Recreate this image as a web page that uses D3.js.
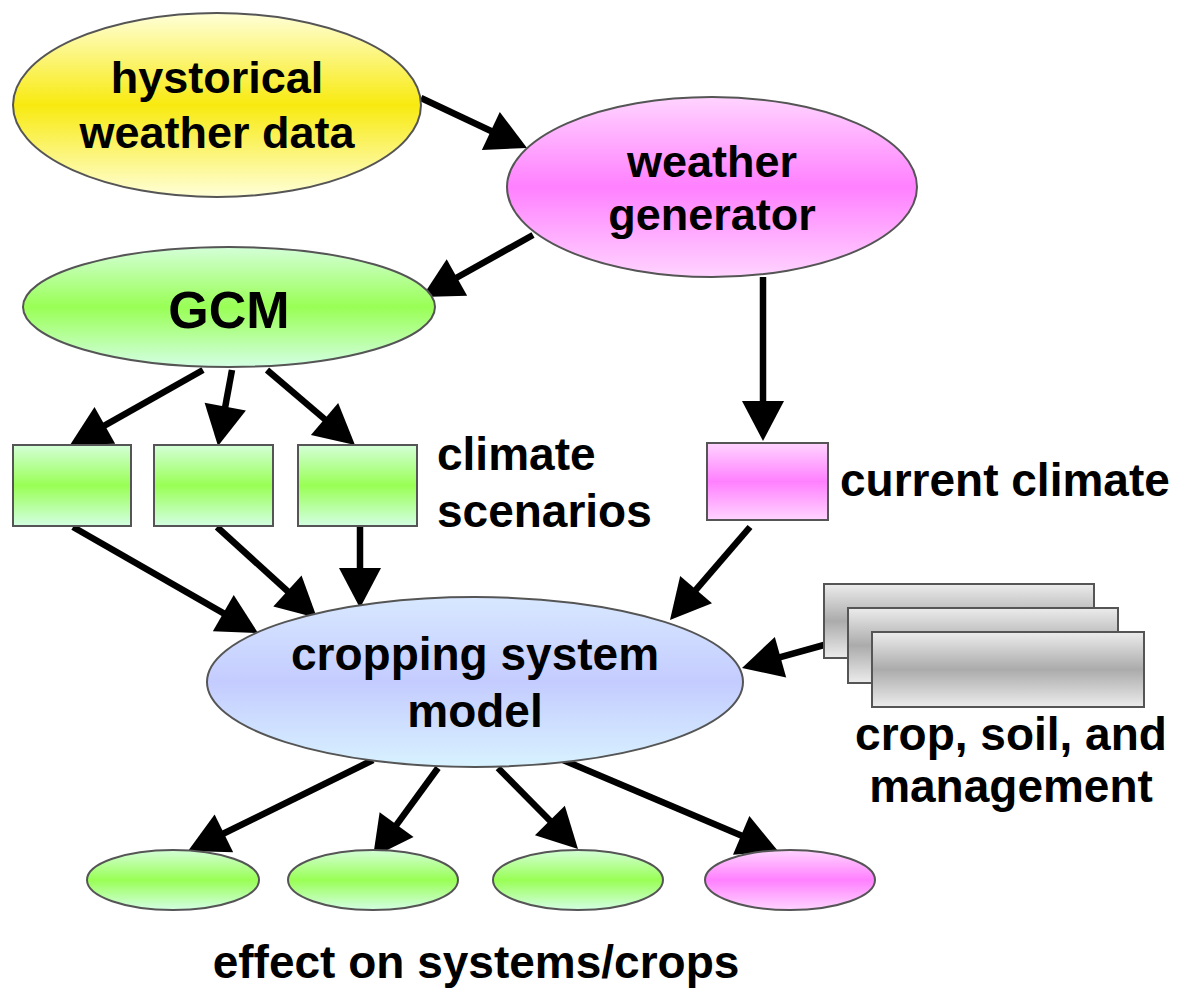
<!DOCTYPE html>
<html>
<head>
<meta charset="utf-8">
<script src="https://cdn.jsdelivr.net/npm/d3@7"></script>
<style>
  html, body { margin: 0; padding: 0; background: #fff; }
  svg { display: block; }
  text { font-family: "Liberation Sans", Arial, sans-serif; font-weight: bold; fill: #000; }
</style>
</head>
<body>
<div id="chart"></div>
<script>
// node labels
const ellipseLabels = [
  ['hystorical', 'weather data'],
  ['weather', 'generator'],
  ['GCM'],
  ['cropping system', 'model'],
  [], [], [], []
];
const ellipseColors = ['yellow', 'pink', 'green', 'blue', 'green', 'green', 'green', 'pink'];
const rectColors = ['green', 'green', 'green', 'pink'];
const sideLabels = [
  ['climate', 'scenarios'],
  ['current climate'],
  ['crop, soil, and', 'management'],
  ['effect on systems/crops']
];

// layout (pixels)
const ellipseBoxes = [
  {cx: 217, cy: 105, rx: 204, ry: 92, fs: 45, base: [93, 148]},
  {cx: 712, cy: 187, rx: 205, ry: 90, fs: 45, base: [177, 230]},
  {cx: 229, cy: 307, rx: 206, ry: 60, fs: 52, base: [328]},
  {cx: 475, cy: 682, rx: 268, ry: 85, fs: 46, base: [670, 727]},
  {cx: 173, cy: 880, rx: 86, ry: 30},
  {cx: 373, cy: 880, rx: 85, ry: 30},
  {cx: 578, cy: 880, rx: 85, ry: 30},
  {cx: 790, cy: 880, rx: 85, ry: 30}
];
const rectBoxes = [
  {x: 13, y: 445, w: 118, h: 81},
  {x: 154, y: 445, w: 119, h: 81},
  {x: 298, y: 445, w: 119, h: 81},
  {x: 707, y: 443, w: 121, h: 77}
];
const stackBoxes = [
  {x: 824, y: 584, w: 270, h: 74},
  {x: 848, y: 608, w: 270, h: 75},
  {x: 872, y: 632, w: 272, h: 75}
];
const sideLabelPos = [
  {x: 437, anchor: 'start', base: [470, 527]},
  {x: 840, anchor: 'start', base: [496]},
  {x: 1011, anchor: 'middle', base: [750, 802]},
  {x: 476, anchor: 'middle', base: [978]}
];
// arrows: start -> tip
const arrows = [
  [421, 98, 527, 148],
  [533, 235, 422, 297],
  [763, 277, 763, 441],
  [203, 370, 70, 445],
  [232, 370, 218, 446],
  [267, 370, 355, 445],
  [73, 527, 258, 633],
  [217, 527, 317, 618],
  [360, 527, 360, 608],
  [750, 527, 670, 620],
  [824, 645, 742, 668],
  [373, 760, 188, 851],
  [438, 768, 373, 857],
  [498, 768, 578, 849],
  [563, 760, 778, 851]
];

const W = 1180, H = 989;
const svg = d3.select('#chart').append('svg')
  .attr('width', W).attr('height', H);

const defs = svg.append('defs');
const gradients = {
  yellow: ['#ffffd8', '#f8ea10', '#ffffd8'],
  pink:   ['#ffd4ff', '#ff80ff', '#ffd4ff'],
  green:  ['#d4ffd8', '#99ff55', '#d4ffe4'],
  blue:   ['#d8e8ff', '#c4ccff', '#d8f2ff'],
  gray:   ['#ececec', '#ababab', '#ececec']
};
Object.keys(gradients).forEach(function (k) {
  const g = defs.append('linearGradient')
    .attr('id', 'grad-' + k)
    .attr('x1', 0).attr('y1', 0).attr('x2', 0).attr('y2', 1);
  gradients[k].forEach(function (c, i) {
    g.append('stop').attr('offset', i / 2).attr('stop-color', c);
  });
});

// arrows first (under shapes)
const headLen = 40, headHalf = 21;
const arrowG = svg.append('g').attr('class', 'arrows');
arrows.forEach(function (a) {
  const dx = a[2] - a[0], dy = a[3] - a[1];
  const len = Math.sqrt(dx * dx + dy * dy);
  const ux = dx / len, uy = dy / len;
  const bx = a[2] - ux * headLen, by = a[3] - uy * headLen;
  arrowG.append('line')
    .attr('x1', a[0]).attr('y1', a[1])
    .attr('x2', bx + ux * 2).attr('y2', by + uy * 2)
    .attr('stroke', '#000').attr('stroke-width', 6.5);
  arrowG.append('path')
    .attr('d', d3.line()([
      [a[2], a[3]],
      [bx - uy * headHalf, by + ux * headHalf],
      [bx + uy * headHalf, by - ux * headHalf]
    ]) + 'Z')
    .attr('fill', '#000');
});

// ellipses
svg.append('g').selectAll('ellipse')
  .data(ellipseBoxes)
  .join('ellipse')
  .attr('cx', d => d.cx).attr('cy', d => d.cy)
  .attr('rx', d => d.rx).attr('ry', d => d.ry)
  .attr('fill', (d, i) => 'url(#grad-' + ellipseColors[i] + ')')
  .attr('stroke', '#555').attr('stroke-width', 2);

// rects
svg.append('g').selectAll('rect')
  .data(rectBoxes)
  .join('rect')
  .attr('x', d => d.x).attr('y', d => d.y)
  .attr('width', d => d.w).attr('height', d => d.h)
  .attr('fill', (d, i) => 'url(#grad-' + rectColors[i] + ')')
  .attr('stroke', '#555').attr('stroke-width', 2);

svg.append('g').selectAll('rect')
  .data(stackBoxes)
  .join('rect')
  .attr('x', d => d.x).attr('y', d => d.y)
  .attr('width', d => d.w).attr('height', d => d.h)
  .attr('fill', 'url(#grad-gray)')
  .attr('stroke', '#555').attr('stroke-width', 2);

// labels inside ellipses
ellipseBoxes.forEach(function (b, i) {
  ellipseLabels[i].forEach(function (t, j) {
    svg.append('text')
      .attr('x', b.cx).attr('y', b.base[j])
      .attr('text-anchor', 'middle')
      .attr('font-size', b.fs)
      .text(t);
  });
});

// side labels
sideLabels.forEach(function (lines, i) {
  const p = sideLabelPos[i];
  lines.forEach(function (t, j) {
    svg.append('text')
      .attr('x', p.x).attr('y', p.base[j])
      .attr('text-anchor', p.anchor)
      .attr('font-size', 46)
      .text(t);
  });
});
</script>
</body>
</html>
